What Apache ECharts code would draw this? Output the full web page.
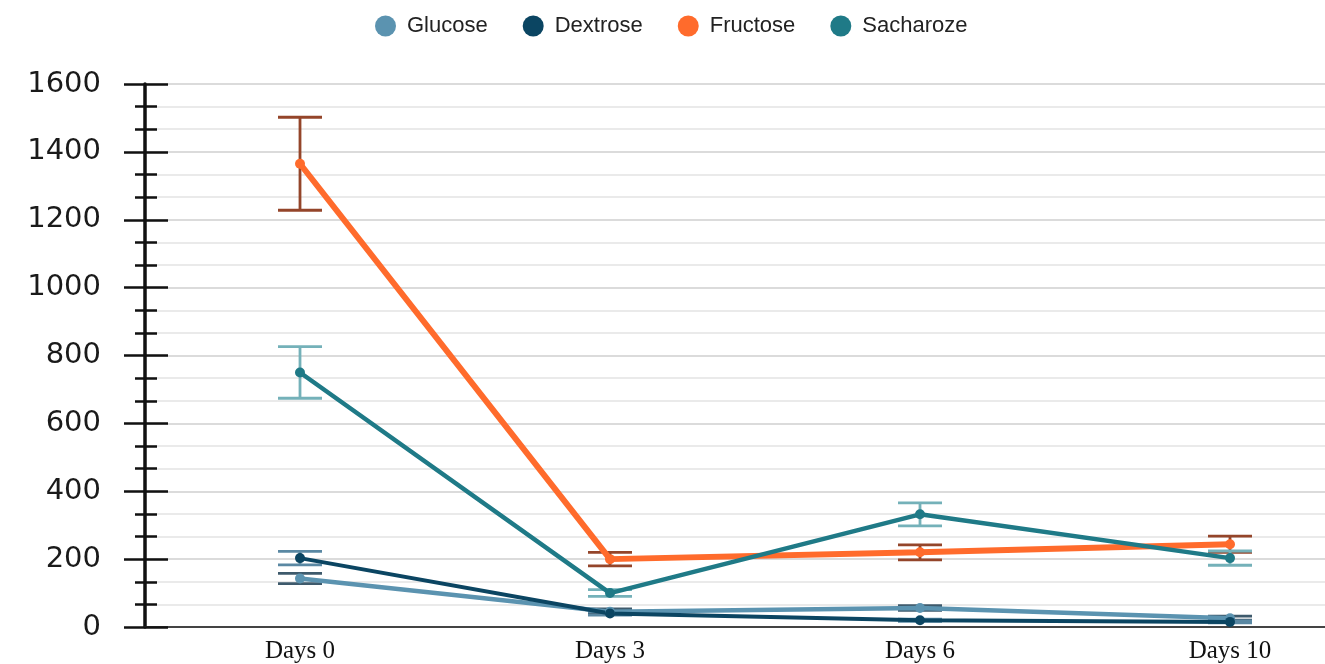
<!DOCTYPE html>
<html>
<head>
<meta charset="utf-8">
<script src="https://cdn.jsdelivr.net/npm/echarts@6/dist/echarts.min.js"></script>
<style>
  html, body { margin: 0; padding: 0; background: #ffffff; overflow: hidden; }
  #chart { width: 1385px; height: 664px; }
</style>
</head>
<body>
<div id="chart"></div>
<script>
// Sampling days
const categories = ['Days 0', 'Days 3', 'Days 6', 'Days 10'];

// Mean values per sugar
const glucose   = [143, 45, 56, 26];
const dextrose  = [203, 40, 20, 15];
const fructose  = [1365, 200, 220, 244];
const sacharoze = [750, 100, 332, 203];

// Standard deviations (error bar half-lengths)
const glucoseErr   = [15, 8, 7, 6];
const dextroseErr  = [20, 5, 3, 3];
const fructoseErr  = [137, 20, 22, 24];
const sacharozeErr = [76, 10, 34, 21];

// Y axis scale
const yMin = 0, yMax = 1600, yStep = 200;

const colors = {
  Glucose:   '#5b93b0',
  Dextrose:  '#0b4562',
  Fructose:  '#ff6b2c',
  Sacharoze: '#1f7a87'
};
const errColors = {
  Glucose:   '#3e5a6c',
  Dextrose:  '#5a88a3',
  Fructose:  '#94452a',
  Sacharoze: '#74b1b9'
};
const lineWidths = { Glucose: 4.5, Dextrose: 4, Fructose: 6, Sacharoze: 4.5 };

const seriesDefs = [
  { name: 'Glucose',   values: glucose,   errs: glucoseErr },
  { name: 'Dextrose',  values: dextrose,  errs: dextroseErr },
  { name: 'Fructose',  values: fructose,  errs: fructoseErr },
  { name: 'Sacharoze', values: sacharoze, errs: sacharozeErr }
];

function errorBarSeries(def) {
  return {
    type: 'custom',
    name: def.name + ' error',
    yAxisIndex: 0,
    z: 1,
    silent: true,
    data: def.values.map((v, i) => [i, v - def.errs[i], v + def.errs[i]]),
    renderItem: function (params, api) {
      const lo = api.coord([api.value(0), api.value(1)]);
      const hi = api.coord([api.value(0), api.value(2)]);
      const half = 22;
      const style = { stroke: errColors[def.name], lineWidth: 2.8 };
      return {
        type: 'group',
        children: [
          { type: 'line', shape: { x1: hi[0], y1: hi[1], x2: lo[0], y2: lo[1] }, style: style },
          { type: 'line', shape: { x1: hi[0] - half, y1: hi[1], x2: hi[0] + half, y2: hi[1] }, style: style },
          { type: 'line', shape: { x1: lo[0] - half, y1: lo[1], x2: lo[0] + half, y2: lo[1] }, style: style }
        ]
      };
    }
  };
}

function lineSeries(def) {
  return {
    type: 'line',
    name: def.name,
    yAxisIndex: 0,
    z: 3,
    data: def.values,
    symbol: 'circle',
    symbolSize: 10,
    itemStyle: { color: colors[def.name] },
    lineStyle: { color: colors[def.name], width: lineWidths[def.name] },
    emphasis: { disabled: true }
  };
}

const yAxisCommon = {
  type: 'value',
  min: yMin,
  max: yMax,
  interval: yStep,
  position: 'left',
  offset: 0
};

const chart = echarts.init(document.getElementById('chart'), null, { renderer: 'canvas' });
chart.setOption({
  animation: false,
  backgroundColor: '#ffffff',
  color: seriesDefs.map(d => colors[d.name]),
  legend: {
    top: 10,
    left: 370,
    icon: 'circle',
    itemWidth: 21,
    itemHeight: 21,
    itemGap: 35,
    data: seriesDefs.map(d => d.name),
    textStyle: {
      fontFamily: 'Liberation Sans, Arial, sans-serif',
      fontSize: 22,
      color: '#222222',
      padding: [0, 0, 0, 6]
    }
  },
  grid: { left: 145, right: 0, top: 84, bottom: 36, containLabel: false },
  xAxis: {
    type: 'category',
    data: categories,
    boundaryGap: true,
    axisLine: { show: true, lineStyle: { color: '#444444', width: 2 } },
    axisTick: { show: false },
    splitLine: { show: false },
    axisLabel: {
      fontFamily: 'Liberation Serif, Times New Roman, serif',
      fontSize: 25,
      color: '#111111',
      margin: 12
    }
  },
  yAxis: [
    Object.assign({}, yAxisCommon, {
      axisLine: { show: true, lineStyle: { color: '#111111', width: 3.5 } },
      axisTick: { show: true, inside: false, length: 21, lineStyle: { color: '#111111', width: 2.5 } },
      minorTick: { show: true, splitNumber: 3, length: 10, lineStyle: { color: '#111111', width: 2.5 } },
      splitLine: { show: true, lineStyle: { color: '#cfcfcf', width: 1.5 } },
      minorSplitLine: { show: true, lineStyle: { color: '#e3e3e3', width: 1.5 } },
      axisLabel: {
        fontFamily: 'DejaVu Sans, sans-serif',
        fontSize: 29,
        color: '#1a1a1a',
        margin: 44,
        formatter: function (v) { return String(v); }
      }
    }),
    Object.assign({}, yAxisCommon, {
      axisLine: { show: false },
      axisTick: { show: true, inside: true, length: 23, lineStyle: { color: '#111111', width: 2.5 } },
      minorTick: { show: true, splitNumber: 3, length: 12, lineStyle: { color: '#111111', width: 2.5 } },
      splitLine: { show: false },
      minorSplitLine: { show: false },
      axisLabel: { show: false }
    })
  ],
  series: seriesDefs.map(errorBarSeries).concat(seriesDefs.map(lineSeries))
});
</script>
</body>
</html>
